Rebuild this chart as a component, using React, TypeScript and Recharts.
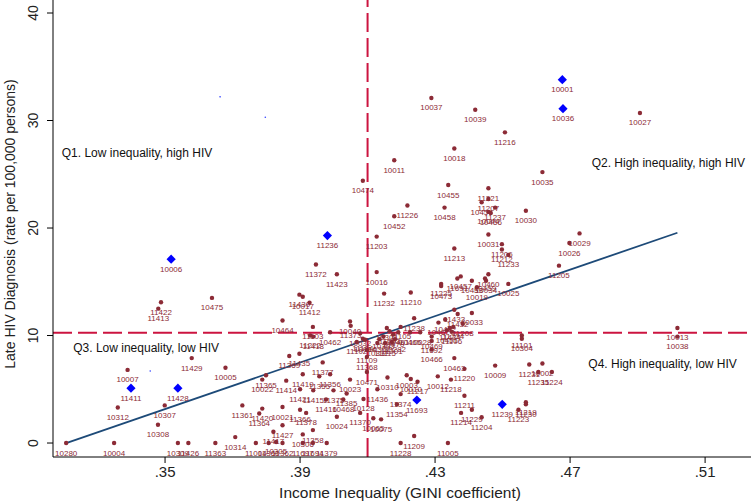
import React from 'react';
import { ScatterChart, Scatter, XAxis, YAxis, ReferenceLine, Label } from 'recharts';

const FONT = '"Liberation Sans", Arial, Helvetica, sans-serif';
const MAROON = '#8c2b36';
const BLUE = '#0000ff';
const RED = '#cc1440';
const NAVY = '#1d4a78';

const xTicks = [0.35, 0.39, 0.43, 0.47, 0.51];
const yTicks = [0, 10, 20, 30, 40];
const xDomain: [number, number] = [0.3168, 0.5236];
const yDomain: [number, number] = [-1.3, 41.21];
const meanGini = 0.41;
const meanRate = 10.25;
const fitStart = { x: 0.3207, y: 0 };
const fitEnd = { x: 0.5018, y: 19.56 };

type Zip = [string, number, number];

// Q1: low inequality, high HIV
const q1Zips: Zip[] = [
  ['10474', 0.4086, 24.4], ['11372', 0.3947, 16.6], ['11423', 0.4009, 15.7],
  ['11422', 0.3488, 13.1], ['11413', 0.348, 12.5], ['10475', 0.3639, 13.5],
  ['11430', 0.3898, 13.8], ['10017', 0.3908, 13.6], ['11412', 0.3928, 13.05],
  ['10464', 0.3848, 11.4], ['11103', 0.3938, 10.8], ['10462', 0.3989, 10.3],
  ['10040', 0.4048, 11.3], ['11373', 0.405, 10.9],
];

// Q2: high inequality, high HIV
const q2Zips: Zip[] = [
  ['10037', 0.4289, 32.1], ['10039', 0.4419, 31.0], ['10027', 0.4907, 30.7],
  ['11216', 0.4507, 28.9], ['10018', 0.4357, 27.4], ['10011', 0.4179, 26.3],
  ['10035', 0.4618, 25.2], ['10455', 0.4339, 24.0], ['11221', 0.4458, 23.7],
  ['11207', 0.4458, 22.7], ['10454', 0.4438, 22.4], ['11226', 0.4218, 22.1],
  ['10458', 0.4328, 21.9], ['11237', 0.4478, 21.9], ['10452', 0.4179, 21.1],
  ['10456', 0.4465, 21.4], ['10044', 0.4458, 21.5], ['10030', 0.4569, 21.6],
  ['11203', 0.4127, 19.2], ['10031', 0.4458, 19.4], ['10029', 0.4728, 19.5],
  ['10026', 0.4698, 18.6], ['11213', 0.4357, 18.1], ['11206', 0.4498, 18.5],
  ['11212', 0.4498, 18.0], ['11233', 0.4517, 17.5], ['11205', 0.4667, 16.5],
  ['10016', 0.4127, 15.9], ['11232', 0.4149, 13.9], ['11210', 0.4228, 14.0],
  ['11225', 0.4318, 14.8], ['10473', 0.4318, 14.6], ['11691', 0.4366, 15.3],
  ['10457', 0.4376, 15.5], ['10453', 0.4409, 15.1], ['10459', 0.4448, 15.3],
  ['10460', 0.4458, 15.7], ['10034', 0.4451, 15.1], ['10019', 0.4424, 14.5],
  ['10025', 0.4517, 14.8], ['11433', 0.4357, 12.4], ['10033', 0.4409, 12.1],
  ['11432', 0.4367, 12.0], ['11238', 0.4238, 11.6], ['10467', 0.431, 11.2],
  ['10472', 0.433, 11.5], ['11208', 0.4382, 11.1], ['11434', 0.4344, 10.7],
  ['11234', 0.4354, 10.8], ['10451', 0.4335, 10.5], ['11106', 0.4349, 10.35],
  ['10013', 0.5018, 10.7], ['10301', 0.4157, 10.7], ['11105', 0.4198, 10.8],
  ['10461', 0.4191, 10.3], ['10465', 0.4226, 10.3], ['10028', 0.4256, 10.3],
  ['11003', 0.4165, 10.4],
];

// Q3: low inequality, low HIV
const q3Zips: Zip[] = [
  ['11222', 0.393, 10.0], ['11418', 0.3939, 9.9], ['10032', 0.4078, 10.2],
  ['11104', 0.4086, 9.7], ['10014', 0.4093, 9.6], ['11102', 0.4068, 9.4],
  ['11109', 0.4098, 8.65], ['11368', 0.4098, 8.0], ['11435', 0.3898, 8.3],
  ['11369', 0.3868, 8.1], ['11377', 0.3967, 7.5], ['11365', 0.3799, 6.3],
  ['10022', 0.3788, 5.9], ['11414', 0.3859, 5.8], ['11419', 0.3908, 6.4],
  ['11355', 0.3957, 6.2], ['11356', 0.3989, 6.4], ['10023', 0.4048, 5.9],
  ['11421', 0.39, 5.0], ['11415', 0.3939, 4.9], ['11375', 0.3999, 4.9],
  ['11385', 0.4038, 4.6], ['10468', 0.4028, 4.05], ['11416', 0.3977, 4.05],
  ['10024', 0.4009, 2.45], ['11420', 0.3788, 3.2], ['10021', 0.3848, 3.35],
  ['11366', 0.39, 3.1], ['11378', 0.3918, 2.8], ['11427', 0.3848, 1.65],
  ['11358', 0.3938, 1.2], ['10306', 0.3908, 0.8], ['11417', 0.3821, 1.05],
  ['11361', 0.3729, 3.5], ['11364', 0.3779, 2.75], ['10280', 0.3207, 0],
  ['10004', 0.3349, 0], ['10309', 0.3538, 0], ['11426', 0.3569, 0],
  ['11363', 0.3649, 0], ['10314', 0.3708, 0.55], ['11004', 0.3769, 0],
  ['11360', 0.3807, 0], ['10305', 0.3829, 0.1], ['11362', 0.3848, 0],
  ['11697', 0.3908, 0], ['11694', 0.3938, 0], ['11379', 0.3979, 0],
  ['10007', 0.3389, 6.8], ['10312', 0.336, 3.3], ['10307', 0.3499, 3.5],
  ['10308', 0.3479, 1.7], ['11429', 0.3579, 7.9], ['10005', 0.3679, 7.0],
  ['10471', 0.4098, 6.6], ['10128', 0.4088, 4.1], ['11370', 0.4078, 2.8],
];

// Q4: high inequality, low HIV
const q4Zips: Zip[] = [
  ['10065', 0.4117, 2.3], ['10075', 0.414, 2.2], ['10310', 0.4159, 6.1],
  ['11436', 0.4129, 5.0], ['10003', 0.4216, 6.3], ['10010', 0.4228, 5.95],
  ['11217', 0.4248, 5.7], ['11374', 0.4198, 4.55], ['11354', 0.4187, 3.6],
  ['11209', 0.4238, 0.65], ['11228', 0.4198, 0], ['11005', 0.4338, 0],
  ['10463', 0.4357, 7.9], ['10009', 0.4478, 7.2], ['11220', 0.4387, 6.9],
  ['10012', 0.4308, 6.2], ['11218', 0.4347, 5.9], ['11231', 0.4579, 7.3],
  ['10002', 0.4618, 7.4], ['11235', 0.4606, 6.6], ['11224', 0.4646, 6.6],
  ['11211', 0.4387, 4.4], ['11219', 0.4569, 3.8], ['11230', 0.4569, 3.6],
  ['11223', 0.4547, 3.1], ['11229', 0.4409, 3.1], ['11214', 0.4377, 2.8],
  ['11204', 0.4438, 2.4], ['10469', 0.429, 9.9], ['11692', 0.429, 9.5],
  ['10466', 0.429, 8.7], ['11101', 0.4557, 10.0], ['10304', 0.4557, 9.7],
  ['10038', 0.5018, 9.9], ['10302', 0.4135, 9.65], ['10303', 0.4147, 9.9],
  ['10311', 0.4129, 9.3], ['11215', 0.4152, 9.3], ['11201', 0.4172, 9.4],
  ['10282', 0.4181, 9.65], ['10470', 0.4176, 10.1],
];

// Highlighted zip codes (blue diamonds)
const flaggedZips: Zip[] = [
  ['10001', 0.4677, 33.8], ['10036', 0.4679, 31.1], ['11236', 0.3981, 19.3],
  ['10006', 0.3518, 17.1], ['11411', 0.3399, 5.1], ['11428', 0.3538, 5.1],
  ['11693', 0.4246, 4.0], ['11239', 0.4499, 3.6],
];

const specks: [number, number][] = [[0.3663, 32.2], [0.3797, 30.3], [0.3456, 6.7]];

const quadrantNotes: [string, number, number][] = [
  ['Q1. Low inequality, high HIV', 0.3194, 26.65],
  ['Q2. High inequality, high HIV', 0.4764, 25.67],
  ['Q3. Low inequality, low HIV', 0.3228, 8.47],
  ['Q4. High inequality, low HIV', 0.4754, 7.02],
];

const toPts = (arr: Zip[]) => arr.map(([zip, x, y]) => ({ zip, x, y }));
const dotData = [...toPts(q1Zips), ...toPts(q2Zips), ...toPts(q3Zips), ...toPts(q4Zips)];
const flagData = toPts(flaggedZips);
const speckData = specks.map(([x, y]) => ({ x, y }));
const noteData = quadrantNotes.map(([text, x, y]) => ({ text, x, y }));

const DotShape = (p: any) => {
  if (p.cx == null || p.cy == null) return null;
  return (
    <g>
      <circle cx={p.cx} cy={p.cy} r={2.2} fill={MAROON} />
      <text x={p.cx} y={p.cy + 12.5} textAnchor="middle" fontSize={8} fill={MAROON} fontFamily={FONT}>
        {p.payload.zip}
      </text>
    </g>
  );
};

const DiamondShape = (p: any) => {
  if (p.cx == null || p.cy == null) return null;
  const { cx, cy } = p;
  const s = 4.6;
  return (
    <g>
      <polygon points={`${cx},${cy - s} ${cx + s},${cy} ${cx},${cy + s} ${cx - s},${cy}`} fill={BLUE} />
      <text x={cx} y={cy + 12.5} textAnchor="middle" fontSize={8} fill={MAROON} fontFamily={FONT}>
        {p.payload.zip}
      </text>
    </g>
  );
};

const SpeckShape = (p: any) => (p.cx == null ? null : <circle cx={p.cx} cy={p.cy} r={0.8} fill="#3040ff" />);

const NoteShape = (p: any) =>
  p.cx == null ? null : (
    <text x={p.cx} y={p.cy} fontSize={12} fill="#111" fontFamily={FONT}>
      {p.payload.text}
    </text>
  );

const fmtX = (v: number) => v.toFixed(2).replace(/^0/, '');

const XTick = (p: any) => (
  <text x={p.x} y={p.y} dy={12} textAnchor="middle" fontSize={15} fill="#222" fontFamily={FONT}>
    {fmtX(p.payload.value)}
  </text>
);

const YTick = (p: any) => (
  <text
    x={33}
    y={p.y}
    transform={`rotate(-90 33 ${p.y})`}
    textAnchor="middle"
    dominantBaseline="central"
    fontSize={14}
    fill="#222"
    fontFamily={FONT}
  >
    {p.payload.value}
  </text>
);

const XTitle = () => (
  <text x={400} y={498} textAnchor="middle" fontSize={15.5} fill="#222" fontFamily={FONT}>
    Income Inequality (GINI coefficient)
  </text>
);

const YTitle = () => (
  <text
    x={10}
    y={224}
    transform="rotate(-90 10 224)"
    textAnchor="middle"
    dominantBaseline="central"
    fontSize={14}
    fill="#222"
    fontFamily={FONT}
  >
    Late HIV Diagnosis (rate per 100,000 persons)
  </text>
);

export default function App() {
  return (
    <div style={{ position: 'absolute', left: 0, top: 0, width: 751, height: 504, background: '#fff' }}>
      <ScatterChart width={751} height={504} margin={{ top: 0, right: 0, bottom: 0, left: 0 }}>
        <XAxis
          type="number"
          dataKey="x"
          domain={xDomain}
          ticks={xTicks}
          allowDataOverflow
          height={47}
          tickSize={6}
          axisLine={{ stroke: '#000', strokeWidth: 1 }}
          tickLine={{ stroke: '#000' }}
          tick={<XTick />}
        >
          <Label content={<XTitle />} />
        </XAxis>
        <YAxis
          type="number"
          dataKey="y"
          domain={yDomain}
          ticks={yTicks}
          allowDataOverflow
          width={53}
          tickSize={6}
          axisLine={{ stroke: '#000', strokeWidth: 1 }}
          tickLine={{ stroke: '#000' }}
          tick={<YTick />}
        >
          <Label content={<YTitle />} />
        </YAxis>
        <ReferenceLine x={meanGini} stroke={RED} strokeWidth={2} strokeDasharray="19 6" />
        <ReferenceLine y={meanRate} stroke={RED} strokeWidth={2} strokeDasharray="19 6" />
        <ReferenceLine segment={[fitStart, fitEnd]} stroke={NAVY} strokeWidth={1.8} />
        <Scatter data={noteData} shape={<NoteShape />} isAnimationActive={false} />
        <Scatter data={speckData} shape={<SpeckShape />} isAnimationActive={false} />
        <Scatter data={dotData} shape={<DotShape />} isAnimationActive={false} />
        <Scatter data={flagData} shape={<DiamondShape />} isAnimationActive={false} />
      </ScatterChart>
    </div>
  );
}
